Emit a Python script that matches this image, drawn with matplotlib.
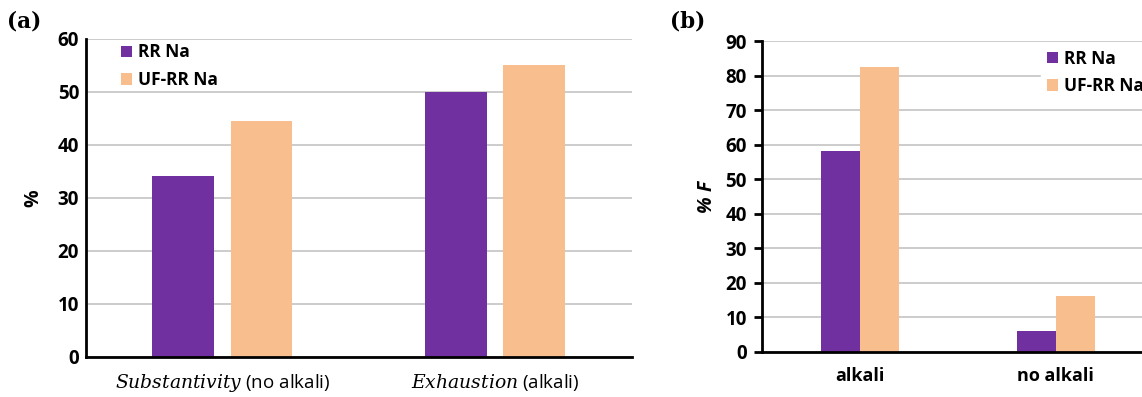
import matplotlib
matplotlib.use('Agg')
import matplotlib.pyplot as plt
import numpy as np

plt.rcParams['font.family'] = ['Open Sans', 'DejaVu Sans']
plt.rcParams['mathtext.fontset'] = 'dejavuserif'

series = ['RR Na', 'UF-RR Na']
colors = ['#7030A0', '#F8BE8E']

# panel (a)
cats_a = [r'$\mathit{Substantivity}$ (no alkali)', r'$\mathit{Exhaustion}$ (alkali)']
rr_a = [34.1, 50.0]
uf_a = [44.5, 55.0]

# panel (b)
cats_b = ['alkali', 'no alkali']
rr_b = [58.3, 6.1]
uf_b = [82.5, 16.2]

fig = plt.figure(figsize=(11.42, 3.97), dpi=100)
ax1 = fig.add_axes([0.0753, 0.1008, 0.478, 0.801])
ax2 = fig.add_axes([0.6673, 0.1134, 0.343, 0.783])

def style(ax, ymax, step, ticks_out):
    ax.set_ylim(0, ymax)
    ax.set_yticks(np.arange(0, ymax + 1, step))
    ax.set_yticklabels([str(v) for v in range(0, ymax + 1, step)],
                       fontsize=13.5, fontweight='bold')
    ax.grid(axis='y', color='#C8C8C8', linewidth=1.3)
    ax.set_axisbelow(True)
    for s in ['top', 'right']:
        ax.spines[s].set_visible(False)
    for s in ['left', 'bottom']:
        ax.spines[s].set_linewidth(2)
    ax.tick_params(axis='x', length=0, pad=11)
    ax.tick_params(axis='y', length=6 if ticks_out else 0, width=2, pad=5)

x = np.arange(2)

w = 0.227
ax1.bar(x - 0.0295 - w / 2, rr_a, w, color=colors[0], label=series[0])
ax1.bar(x + 0.0295 + w / 2, uf_a, w, color=colors[1], label=series[1])
ax1.set_xlim(-0.5, 1.5)
style(ax1, 60, 10, False)
ax1.set_xticks(x)
ax1.set_xticklabels(cats_a, fontsize=13.5)
ax1.set_ylabel('%', fontsize=14, fontweight='bold', labelpad=10)
ax1.legend(loc='upper left', bbox_to_anchor=(0.035, 1.035), frameon=False,
           prop={'size': 12.5, 'weight': 'bold'}, handlelength=0.65, handleheight=0.65,
           handletextpad=0.35, labelspacing=0.55)

w = 0.2
ax2.bar(x - w / 2, rr_b, w, color=colors[0], label=series[0])
ax2.bar(x + w / 2, uf_b, w, color=colors[1], label=series[1])
ax2.set_xlim(-0.5, 1.5)
style(ax2, 90, 10, True)
ax2.set_xticks(x)
ax2.set_xticklabels(cats_b, fontsize=13, fontweight='bold')
ax2.set_ylabel('% F', fontsize=14, fontweight='bold', style='italic', labelpad=6)
leg = ax2.legend(loc='upper left', bbox_to_anchor=(0.69, 1.02), frameon=True,
                 prop={'size': 12.5, 'weight': 'bold'}, handlelength=0.65, handleheight=0.65,
                 handletextpad=0.35, labelspacing=0.55, borderpad=0.35)
leg.get_frame().set_edgecolor('white')
leg.get_frame().set_alpha(1)

fig.text(0.006, 0.93, '(a)', fontsize=15.5, fontweight='bold', family='DejaVu Serif')
fig.text(0.587, 0.93, '(b)', fontsize=15.5, fontweight='bold', family='DejaVu Serif')

fig.savefig('out.png', dpi=100)
